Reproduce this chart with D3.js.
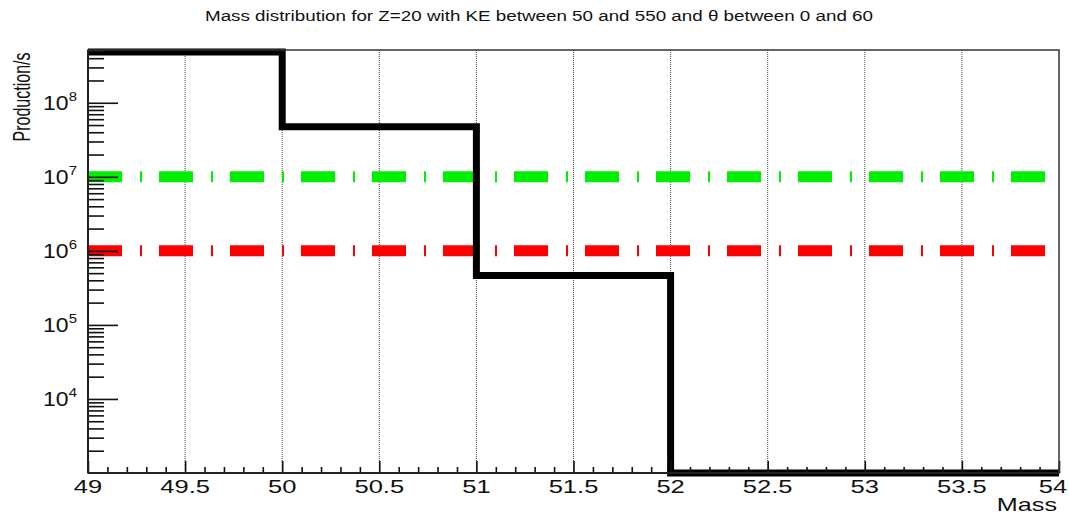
<!DOCTYPE html>
<html>
<head>
<meta charset="utf-8">
<script src="https://cdn.jsdelivr.net/npm/d3@7/dist/d3.min.js"></script>
<style>
  html, body { margin: 0; padding: 0; background: #fff; }
  svg { display: block; }
  text { font-family: "Liberation Sans", Arial, Helvetica, sans-serif; fill: #111; }
</style>
</head>
<body>
<svg id="chart" width="1069" height="515"></svg>
<script>
// ---- data ----
const binEdges = [49, 50, 51, 52, 53, 54];
const binValues = [4.86e8, 4.75e7, 4.64e5, 0, 0];
const refLevels = [1e7, 1e6];
const refColors = ["#00ee00", "#ff0000"];
const xMajorTicks = [49, 49.5, 50, 50.5, 51, 51.5, 52, 52.5, 53, 53.5, 54];
const xTickLabels = ["49", "49.5", "50", "50.5", "51", "51.5", "52", "52.5", "53", "53.5", "54"];
const yDecades = [1e4, 1e5, 1e6, 1e7, 1e8];
const yDecadeExp = ["4", "5", "6", "7", "8"];
const xDomain = [49, 54];
const yDomain = [1000, 5.16e8];
const titleText = "Mass distribution for Z=20 with KE between 50 and 550 and \u03b8 between 0 and 60";
const xTitle = "Mass";
const yTitle = "Production/s";

// ---- layout ----
const L = 88, R = 1059, T = 50, B = 473;
const svg = d3.select("#chart");
const x = d3.scaleLinear().domain(xDomain).range([L, R]);
const y = d3.scaleLog().domain(yDomain).range([B, T]).clamp(true);

// minor ticks
const xMinor = d3.range(49, 54.0001, 0.1).map(v => +v.toFixed(1)).filter(v => !xMajorTicks.includes(v));
const yMinor = [];
for (let k = 3; k <= 8; k++) for (let m = 2; m <= 9; m++) {
  const v = m * Math.pow(10, k);
  if (v >= yDomain[0] && v <= yDomain[1]) yMinor.push(v);
}

// grid (vertical dotted)
svg.append("g").selectAll("line")
  .data(xMajorTicks.filter(v => v > 49 && v < 54))
  .join("line")
  .attr("x1", d => x(d)).attr("x2", d => x(d))
  .attr("y1", T).attr("y2", B)
  .attr("stroke", "#444").attr("stroke-width", 1)
  .attr("stroke-dasharray", "1,1");

// reference dash-dot lines
svg.append("g").selectAll("line")
  .data(refLevels)
  .join("line")
  .attr("x1", x(xDomain[0])).attr("x2", x(xDomain[1]))
  .attr("y1", d => y(d)).attr("y2", d => y(d))
  .attr("stroke", (d, i) => refColors[i])
  .attr("stroke-width", 11)
  .attr("stroke-dasharray", "34,18,2,17");

// histogram step line
const pts = [];
binValues.forEach((v, i) => {
  pts.push([x(binEdges[i]), y(Math.max(v, yDomain[0]))]);
  pts.push([x(binEdges[i + 1]), y(Math.max(v, yDomain[0]))]);
});
svg.append("path")
  .attr("d", d3.line()(pts))
  .attr("fill", "none")
  .attr("stroke", "#000")
  .attr("stroke-width", 7)
  .attr("stroke-linejoin", "miter")
  .attr("stroke-linecap", "butt");

// axes via d3
const gx = svg.append("g").attr("transform", `translate(0,${B})`)
  .call(d3.axisBottom(x).tickValues(xMajorTicks).tickSize(-12).tickFormat(""));
const gxm = svg.append("g").attr("transform", `translate(0,${B})`)
  .call(d3.axisBottom(x).tickValues(xMinor).tickSize(-6).tickFormat(""));
const gy = svg.append("g").attr("transform", `translate(${L},0)`)
  .call(d3.axisLeft(y).tickValues(yDecades).tickSize(-30).tickFormat(""));
const gym = svg.append("g").attr("transform", `translate(${L},0)`)
  .call(d3.axisLeft(y).tickValues(yMinor).tickSize(-16).tickFormat(""));
[gx, gxm, gy, gym].forEach(g => {
  g.selectAll(".domain").remove();
  g.selectAll(".tick line").attr("stroke", "#111").attr("stroke-width", 1.6);
});

// frame
svg.append("rect").attr("x", L).attr("y", T).attr("width", R - L).attr("height", B - T)
  .attr("fill", "none").attr("stroke", "#333").attr("stroke-width", 1.5);
svg.append("line").attr("x1", L).attr("x2", L).attr("y1", T).attr("y2", B)
  .attr("stroke", "#222").attr("stroke-width", 2);
svg.append("line").attr("x1", L).attr("x2", R).attr("y1", B).attr("y2", B)
  .attr("stroke", "#222").attr("stroke-width", 2);

// x tick labels (stretched horizontally like the reference)
svg.append("g").selectAll("text")
  .data(xMajorTicks)
  .join("text")
  .attr("transform", (d, i) => `translate(${Math.min(x(d), 1053)},493) scale(1.42,1)`)
  .attr("text-anchor", "middle")
  .attr("font-size", 18)
  .text((d, i) => xTickLabels[i]);

// y tick labels: 10^k
const yl = svg.append("g").selectAll("g")
  .data(yDecades)
  .join("g")
  .attr("transform", d => `translate(43,${y(d) + 7.5}) scale(1.15,1)`);
yl.append("text").attr("x", 0).attr("y", 0).attr("font-size", 20).text("10");
yl.append("text").attr("x", 22.5).attr("y", -9.5).attr("font-size", 13).text((d, i) => yDecadeExp[i]);

// titles
svg.append("text").attr("x", 539).attr("y", 21).attr("text-anchor", "middle")
  .attr("font-size", 14).attr("textLength", 668).attr("lengthAdjust", "spacingAndGlyphs")
  .text(titleText);
svg.append("text").attr("transform", "translate(1057,511) scale(1.4,1)")
  .attr("text-anchor", "end").attr("font-size", 18).text(xTitle);
svg.append("text").attr("transform", "translate(30,97) rotate(-90)")
  .attr("text-anchor", "middle").attr("font-size", 24)
  .attr("textLength", 89).attr("lengthAdjust", "spacingAndGlyphs")
  .text(yTitle);
</script>
</body>
</html>
